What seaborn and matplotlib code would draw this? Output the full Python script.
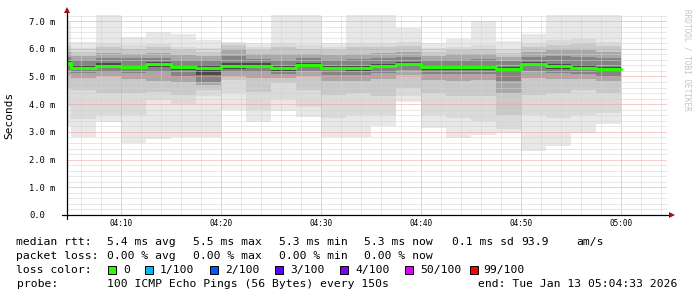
import numpy as np
import pandas as pd
import matplotlib
matplotlib.use("Agg")
import matplotlib.pyplot as plt
import seaborn as sns
from matplotlib.ticker import MultipleLocator, FuncFormatter
from matplotlib.patches import Rectangle

# ---------------- data ----------------
window_start = "2026-01-13 04:04:36"
first_step_end = "2026-01-13 04:05:00"
step_seconds = 150
n_steps = 23

median_rtt = [5.48, 5.32, 5.39, 5.35, 5.44, 5.33, 5.32, 5.39, 5.39, 5.29, 5.42, 5.31,
              5.29, 5.38, 5.46, 5.33, 5.33, 5.33, 5.27, 5.46, 5.37, 5.32, 5.26]
ping_min = [3.20, 2.80, 3.35, 2.59, 2.73, 2.80, 2.80, 3.79, 3.37, 3.77, 3.55, 2.80,
            2.80, 3.21, 4.09, 3.13, 2.77, 2.89, 2.97, 2.32, 2.50, 2.95, 3.27]
ping_max = [7.00, 6.26, 7.40, 6.41, 6.59, 6.53, 6.32, 6.26, 6.22, 7.40, 7.40, 6.22,
            7.40, 7.40, 6.74, 6.20, 6.35, 7.00, 6.28, 6.53, 7.40, 7.40, 7.40]
p5 = [3.90, 3.45, 3.60, 3.60, 4.15, 4.00, 4.30, 4.40, 3.80, 4.20, 3.90, 3.50,
      3.60, 3.60, 4.30, 3.60, 3.50, 3.40, 3.10, 3.60, 3.50, 3.60, 3.70]
p10 = [4.60, 4.50, 4.40, 4.40, 4.45, 4.35, 4.50, 4.88, 4.45, 4.75, 4.50, 4.35,
       4.40, 4.30, 4.60, 4.40, 4.30, 4.30, 3.60, 4.35, 4.40, 4.50, 4.40]
p20 = [5.05, 4.95, 5.02, 4.90, 4.85, 4.80, 4.68, 5.00, 4.95, 4.95, 5.02, 4.85,
       4.85, 4.90, 5.05, 4.88, 4.85, 4.88, 4.40, 4.95, 4.92, 4.90, 4.82]
p30 = [5.25, 5.12, 5.18, 5.12, 5.15, 5.02, 4.80, 5.15, 5.15, 5.08, 5.20, 5.05,
       5.05, 5.12, 5.22, 5.08, 5.08, 5.08, 4.85, 5.20, 5.12, 5.10, 5.02]
p42 = [5.40, 5.24, 5.31, 5.27, 5.34, 5.22, 5.05, 5.28, 5.30, 5.20, 5.34, 5.22,
       5.20, 5.30, 5.38, 5.24, 5.24, 5.24, 5.15, 5.38, 5.28, 5.24, 5.18]
p58 = [5.56, 5.40, 5.47, 5.43, 5.52, 5.41, 5.40, 5.50, 5.47, 5.37, 5.50, 5.39,
       5.37, 5.46, 5.54, 5.41, 5.41, 5.41, 5.35, 5.54, 5.45, 5.40, 5.34]
p70 = [5.72, 5.60, 5.68, 5.65, 5.68, 5.60, 5.58, 5.75, 5.63, 5.60, 5.65, 5.60,
       5.62, 5.66, 5.72, 5.58, 5.60, 5.62, 5.55, 5.70, 5.75, 5.72, 5.65]
p80 = [5.90, 5.75, 5.85, 5.80, 5.85, 5.78, 5.75, 5.95, 5.80, 5.80, 5.82, 5.78,
       5.82, 5.85, 5.90, 5.75, 5.80, 5.82, 5.70, 5.88, 5.95, 5.95, 5.90]
p90 = [6.10, 5.90, 6.05, 6.00, 6.05, 5.95, 5.90, 6.15, 5.95, 6.05, 6.00, 5.95,
       6.05, 6.05, 6.10, 5.90, 5.95, 6.00, 5.85, 6.05, 6.15, 6.20, 6.10]
p95 = [6.25, 6.02, 6.20, 6.12, 6.18, 6.08, 6.02, 6.20, 6.05, 6.20, 6.15, 6.05,
       6.20, 6.20, 6.25, 6.02, 6.08, 6.15, 5.98, 6.20, 6.30, 6.35, 6.25]

y_tick_labels = ["0.0", "1.0 m", "2.0 m", "3.0 m", "4.0 m", "5.0 m", "6.0 m", "7.0 m"]

loss_labels = ["0", "1/100", "2/100", "3/100", "4/100", "50/100", "99/100"]
loss_colors = ["#26ff00", "#00b8ff", "#0059ff", "#5e00ff", "#7e00ff", "#dd00ff", "#ff0000"]

# ---------------- figure ----------------
sns.set_theme(style="white")
plt.rcParams["font.family"] = ["DejaVu Sans Mono", "DejaVu Sans"]

W, H = 697, 297
fig = plt.figure(figsize=(W / 100, H / 100), dpi=100)
fig.patch.set_facecolor("white")
ax = fig.add_axes([67 / W, (H - 215) / H, 600 / W, 200 / H])
ax.set_facecolor("white")

t0 = pd.Timestamp(window_start)
base = t0.normalize() + pd.Timedelta(hours=4)
def to_min(ts):
    return (pd.Timestamp(ts) - base).total_seconds() / 60.0

edges = [to_min(window_start)] + [to_min(first_step_end) + i * step_seconds / 60.0 for i in range(n_steps)]
edges = np.array(edges)
x_start = to_min(window_start)
x_end = x_start + 60.0

def ext(a):
    a = np.asarray(a, dtype=float)
    return np.append(a, a[-1])

# smoke: outer ping pairs light, inner pairs dark (SmokePing style)
layers = [(ping_min, ping_max, "#e8e8e8"),
          (p5, p95, "#dadada"),
          (p10, p90, "#c8c8c8"),
          (p20, p80, "#a8a8a8"),
          (p30, p70, "#848484"),
          (p42, p58, "#4a4a4a")]
for lo, hi, c in layers:
    ax.fill_between(edges, ext(lo), ext(hi), step="post", color=c, lw=0, zorder=1)

df = pd.DataFrame({"t": edges, "median": ext(median_rtt)})
sns.lineplot(data=df, x="t", y="median", ax=ax, color="#26ff00", lw=2.1,
             drawstyle="steps-post", sort=False, zorder=4)

ax.set_xlim(x_start, x_end)
ax.set_ylim(0, 7.22)

# grid (dotted, drawn over the smoke like rrdtool)
ax.xaxis.set_major_locator(MultipleLocator(10))
ax.xaxis.set_minor_locator(MultipleLocator(2))
ax.yaxis.set_major_locator(MultipleLocator(1))
ax.yaxis.set_minor_locator(MultipleLocator(0.2))
ax.grid(which="minor", color="#d2d2d2", lw=0.72, ls=(0, (1, 1)))
ax.grid(which="major", color="#f09a9a", lw=0.72, ls=(0, (1, 1)))
ax.set_axisbelow(False)

def fmt_time(x, pos):
    m = int(round(x))
    return f"{4 + m // 60:02d}:{m % 60:02d}"
ax.xaxis.set_major_formatter(FuncFormatter(fmt_time))
ax.set_yticks(range(len(y_tick_labels)))
ax.set_yticklabels(y_tick_labels, ha="left")
ax.tick_params(axis="x", which="both", length=0, pad=3.0, labelsize=5.6, colors="#000000")
ax.tick_params(axis="y", which="both", length=0, pad=27.4, labelsize=6.3, colors="#000000")

for s in ax.spines.values():
    s.set_visible(False)

# axes lines with arrows
ax.plot([-5 / 600, 1 + 4 / 600], [0, 0], transform=ax.transAxes, color="#000000",
        lw=0.9, clip_on=False, zorder=6)
ax.plot([0, 0], [-4 / 200, 1 + 3 / 200], transform=ax.transAxes, color="#000000",
        lw=0.9, clip_on=False, zorder=6)
ax.plot([1 + 5 / 600], [0], transform=ax.transAxes, marker=">", color="#a01010",
        ms=4, mew=0, clip_on=False, zorder=7)
ax.plot([0], [1 + 5 / 200], transform=ax.transAxes, marker="^", color="#a01010",
        ms=4, mew=0, clip_on=False, zorder=7)

ax.set_xlabel("")
ax.set_ylabel("Seconds", fontsize=8, color="#000000", labelpad=0)
ax.yaxis.set_label_coords(-53 / 600, 0.5)

# watermark
fig.text(687 / W, 1 - 60 / H, "RRDTOOL / TOBI OETIKER", rotation=270, color="#c4c4c4",
         fontsize=5.6, ha="center", va="center")

# legend text
FS = 8.2
def ftext(x, y, s, **kw):
    fig.text(x / W, 1 - y / H, s, fontsize=FS, ha="left", va="baseline", color="#000000", **kw)

ftext(16.5, 245, "median rtt:")
ftext(107, 245, "5.4 ms avg")
ftext(193, 245, "5.5 ms max")
ftext(279, 245, "5.3 ms min")
ftext(364, 245, "5.3 ms now")
ftext(451.5, 245, "0.1 ms sd")
ftext(521.5, 245, "93.9")
ftext(576.5, 245, "am/s")

ftext(16.5, 259, "packet loss:")
ftext(107, 259, "0.00 % avg")
ftext(193, 259, "0.00 % max")
ftext(279, 259, "0.00 % min")
ftext(364, 259, "0.00 % now")

ftext(16.5, 273, "loss color:")
box_x = [107.5, 144.5, 210, 275, 340, 405, 469.5]
text_x = [123, 160, 225, 290, 355, 420, 483]
for bx, tx, lab, col in zip(box_x, text_x, loss_labels, loss_colors):
    fig.patches.append(Rectangle((bx / W, 1 - 273.5 / H), 8 / W, 8 / H,
                                 transform=fig.transFigure, facecolor=col,
                                 edgecolor="#000000", lw=0.7))
    ftext(tx, 273, lab)

ftext(16.5, 287, "probe:")
ftext(107, 287, "100 ICMP Echo Pings (56 Bytes) every 150s")
ftext(478, 287, "end: Tue Jan 13 05:04:33 2026")

fig.savefig("out.png", dpi=100)
